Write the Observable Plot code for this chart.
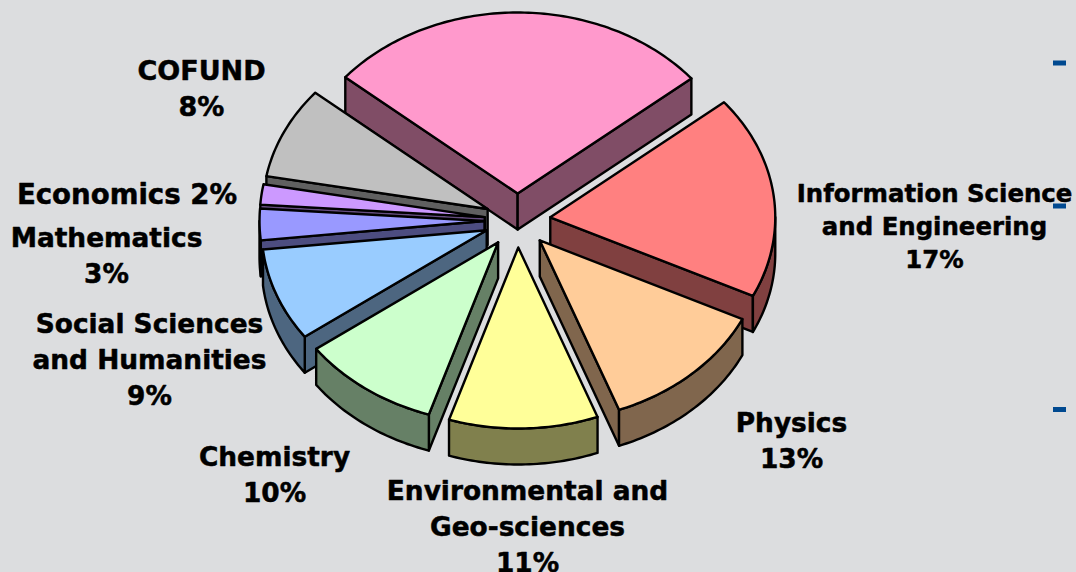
<!DOCTYPE html>
<html>
<head>
<meta charset="utf-8">
<script src="https://cdn.jsdelivr.net/npm/d3@7"></script>
<script src="https://cdn.jsdelivr.net/npm/@observablehq/plot@0.6"></script>
<style>
html,body{margin:0;padding:0;background:#DCDDDF;overflow:hidden}
svg{display:block}
</style>
</head>
<body>
<script>
// Clockwise from the pink slice
const categories = ["(unlabelled)", "Information Science\nand Engineering", "Physics", "Environmental and\nGeo-sciences", "Chemistry", "Social Sciences\nand Humanities", "Mathematics", "Economics", "COFUND"];
const shares = [27.9, 18.1, 12.1, 10.7, 10.0, 8.3, 2.8, 1.8, 8.2];
const percentLabels = [null, "17%", "13%", "11%", "10%", "9%", "3%", "2%", "8%"];
const topColors = ["#FF99CC", "#FF8080", "#FFCC99", "#FFFF99", "#CCFFCC", "#99CCFF", "#9999FF", "#CC99FF", "#C0C0C0"];
const sideColors = ["#804D66", "#804040", "#80664D", "#80804D", "#668066", "#4D6680", "#4D4D80", "#664D80", "#606060"];

// Pie layout (pixels)
const W = 1076, H = 572;
const cx = 517, cy = 220, rx = 225, ry = 181, ex = 33, ey = 27, depth = 36;
const startAngle = -50;
const paintOrder = [0, 8, 7, 6, 5, 4, 1, 2, 3];

const rad = d => d * Math.PI / 180;
const total = d3.sum(shares);
let acc = startAngle;
const slices = shares.map((s, i) => {
  const a0 = acc, a1 = acc + s / total * 360;
  acc = a1;
  const m = (a0 + a1) / 2;
  return {i, a0, a1, ax: cx + ex * Math.sin(rad(m)), ay: cy - ey * Math.cos(rad(m))};
});
const rim = (s, t) => [s.ax + rx * Math.sin(rad(t)), s.ay - ry * Math.cos(rad(t))];
const arc = (s, t0, t1) => {
  const n = Math.max(2, Math.ceil(Math.abs(t1 - t0)));
  return d3.range(n + 1).map(k => rim(s, t0 + (t1 - t0) * k / n));
};
const down = p => [p[0], p[1] + depth];
const closed = pts => [...pts, pts[0]];

const faceMark = (pts, fill) => Plot.line(closed(pts), {
  x: d => d[0], y: d => d[1], fill, stroke: "#000", strokeWidth: 2.4, strokeLinejoin: "round", curve: "linear"
});

const sliceMarks = paintOrder.flatMap(idx => {
  const s = slices[idx], side = sideColors[idx], marks = [];
  const apex = [s.ax, s.ay];
  const P0 = rim(s, s.a0), P1 = rim(s, s.a1);
  if (Math.sin(rad(s.a0)) < 0) marks.push(faceMark([apex, P0, down(P0), down(apex)], side));
  if (Math.sin(rad(s.a1)) > 0) marks.push(faceMark([apex, P1, down(P1), down(apex)], side));
  const lo = Math.max(s.a0, 90), hi = Math.min(s.a1, 270);
  if (lo < hi) {
    const a = arc(s, lo, hi);
    marks.push(faceMark([...a, ...a.slice().reverse().map(down)], side));
  }
  marks.push(faceMark([apex, ...arc(s, s.a0, s.a1)], topColors[idx]));
  return marks;
});

// Label placement (pixels)
const labelLayout = [
  {i: 8, x: 201, y: 86, size: 27, lh: 36},
  {i: 7, text: "Economics 2%", x: 126.5, y: 192, size: 27.6, lh: 36},
  {i: 6, x: 106, y: 253, size: 26.4, lh: 36},
  {i: 5, x: 149, y: 357, size: 26.4, lh: 36},
  {i: 4, x: 274, y: 472, size: 26.4, lh: 36},
  {i: 3, x: 527, y: 524, size: 26.4, lh: 36},
  {i: 2, x: 791, y: 438, size: 26.4, lh: 36},
  {i: 1, x: 934, y: 224, size: 24.4, lh: 33}
];
const textMarks = labelLayout.map(l => Plot.text([l], {
  x: "x", y: "y",
  text: d => d.text ?? `${categories[d.i]}\n${percentLabels[d.i]}`,
  fontFamily: "DejaVu Sans", fontWeight: "bold", fontSize: l.size, lineHeight: l.lh / l.size,
  fill: "#000", stroke: "#000", strokeWidth: 0.5, textAnchor: "middle", lineAnchor: "middle"
}));

const bulletRows = [62.5, 205.5, 409];

const chart = Plot.plot({
  width: W, height: H, margin: 0,
  x: {domain: [0, W], range: [0, W], axis: null},
  y: {domain: [0, H], range: [0, H], axis: null},
  style: {background: "transparent", overflow: "hidden"},
  marks: [
    ...sliceMarks,
    Plot.ruleY(bulletRows, {x1: 1053, x2: 1066, stroke: "#004990", strokeWidth: 5}),
    ...textMarks
  ]
});
document.body.appendChild(chart);
</script>
</body>
</html>
